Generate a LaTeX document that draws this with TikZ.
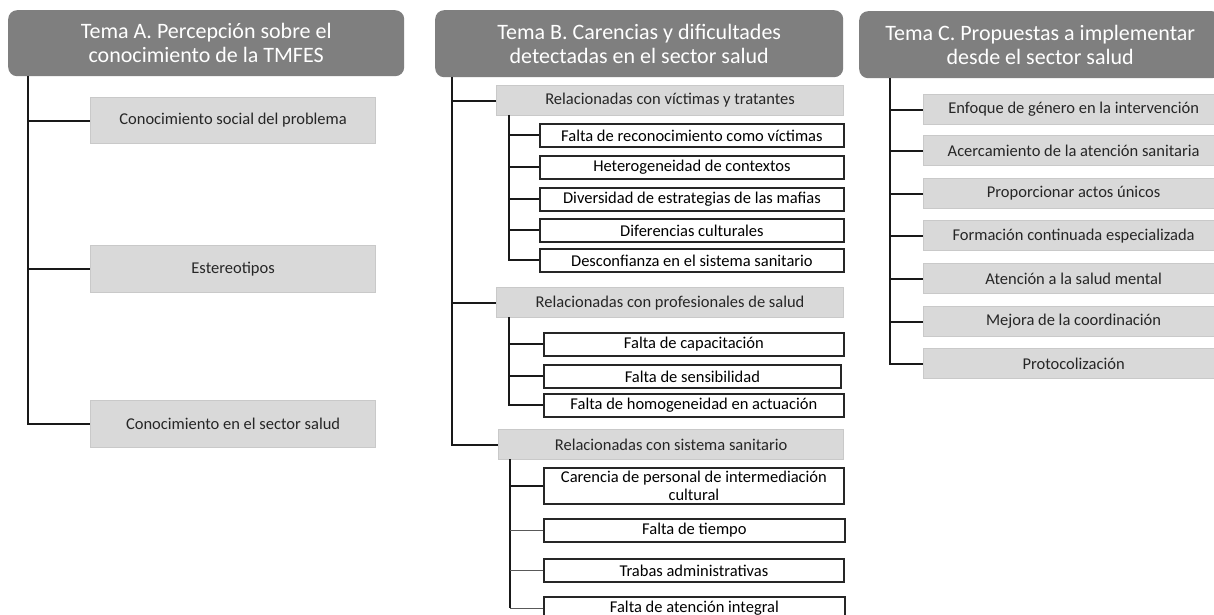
\documentclass[tikz,border=0pt]{standalone}
\usepackage{fontspec}
\setmainfont{Carlito}
\definecolor{hdrgray}{HTML}{7F7F7F}
\definecolor{boxgray}{HTML}{D9D9D9}
\definecolor{boxedge}{HTML}{C9C9C9}
\begin{document}
\begin{tikzpicture}[x=1pt,y=-1pt,
  hdr/.style={fill=hdrgray, rounded corners=9pt, text=white, anchor=north west, inner sep=0pt, align=center,
    font=\fontsize{22}{24}\selectfont},
  gbox/.style={fill=boxgray, draw=boxedge, line width=1.2pt, anchor=north west, inner sep=0pt, align=center,
    font=\fontsize{16.5}{18}\selectfont, text=black!85},
  wbox/.style={fill=white, draw=black!85, line width=1.8pt, anchor=north west, inner sep=0pt, align=center,
    font=\fontsize{16.5}{18}\selectfont, text=black},
  conn/.style={draw=black!90, line width=2pt},
  thinconn/.style={draw=black!65, line width=1.4pt}
]
\useasboundingbox (0,0) rectangle (1214,615);
\clip (0,0) rectangle (1214,615);
\fill[white] (0,0) rectangle (1214,615);

% ---------- Tema A ----------
\node[hdr, minimum width=396pt, minimum height=66pt] (hA) at (8,10) {Tema A. Percepción sobre el\\conocimiento de la TMFES};
\node[gbox, minimum width=285pt, minimum height=46pt] (a1) at (90,97) {Conocimiento social del problema};
\node[gbox, minimum width=285pt, minimum height=47pt] (a2) at (90,245) {Estereotipos};
\node[gbox, minimum width=285pt, minimum height=47pt] (a3) at (90,400) {Conocimiento en el sector salud};
\coordinate (tA) at (28,76);
\draw[conn] (tA) |- (a3.west);
\draw[conn] (tA |- a1.west) -- (a1.west);
\draw[conn] (tA |- a2.west) -- (a2.west);

% ---------- Tema B ----------
\node[hdr, minimum width=408pt, minimum height=67pt] (hB) at (435,10) {Tema B. Carencias y dificultades\\detectadas en el sector salud};
\node[gbox, minimum width=347pt, minimum height=30pt] (s1) at (496,85) {Relacionadas con víctimas y tratantes};
\node[gbox, minimum width=347pt, minimum height=30pt] (s2) at (496,287) {Relacionadas con profesionales de salud};
\node[gbox, minimum width=345pt, minimum height=30pt] (s3) at (498,429) {Relacionadas con sistema sanitario};
\coordinate (tB) at (452,77);
\draw[conn] (tB) |- (s3.west);
\draw[conn] (tB |- s1.west) -- (s1.west);
\draw[conn] (tB |- s2.west) -- (s2.west);

% group 1
\node[wbox, minimum width=304pt, minimum height=23pt] (b11) at (539,123) {Falta de reconocimiento como víctimas};
\node[wbox, minimum width=304pt, minimum height=23pt] (b12) at (539,155) {Heterogeneidad de contextos};
\node[wbox, minimum width=304pt, minimum height=23pt] (b13) at (539,187) {Diversidad de estrategias de las mafias};
\node[wbox, minimum width=304pt, minimum height=23pt] (b14) at (539,218) {Diferencias culturales};
\node[wbox, minimum width=304pt, minimum height=23pt] (b15) at (539,248) {Desconfianza en el sistema sanitario};
\coordinate (t1) at (509,115);
\draw[conn] (t1) |- (b15.west);
\foreach \n in {b11,b12,b13,b14}{\draw[conn] (t1 |- \n.west) -- (\n.west);}

% group 2
\node[wbox, minimum width=300pt, minimum height=23pt] (b21) at (543,332) {Falta de capacitación};
\node[wbox, minimum width=297pt, minimum height=23pt] (b22) at (543,364) {Falta de sensibilidad};
\node[wbox, minimum width=300pt, minimum height=23pt] (b23) at (543,393) {Falta de homogeneidad en actuación};
\coordinate (t2) at (509,317);
\draw[conn] (t2) |- (b23.west);
\foreach \n in {b21,b22}{\draw[conn] (t2 |- \n.west) -- (\n.west);}

% group 3
\node[wbox, minimum width=300pt, minimum height=36pt, font=\fontsize{16.5}{18.5}\selectfont] (b31) at (543,467) {Carencia de personal de intermediación\\cultural};
\node[wbox, minimum width=301pt, minimum height=23pt] (b32) at (543,518) {Falta de tiempo};
\node[wbox, minimum width=300pt, minimum height=23pt] (b33) at (543,558) {Trabas administrativas};
\node[wbox, minimum width=301pt, minimum height=23pt] (b34) at (543,596) {Falta de atención integral};
\coordinate (t3) at (510,459);
\draw[conn] (t3) -- (t3 |- b34.west);
\draw[conn] (t3 |- b31.west) -- (b31.west);
\draw[thinconn] (t3 |- b32.west) -- (b32.west);
\draw[thinconn] (t3 |- b33.west) -- (b33.west);
\draw[thinconn] (t3 |- b34.west) -- (b34.west);

% ---------- Tema C ----------
\node[hdr, minimum width=362pt, minimum height=67pt] (hC) at (859,11) {Tema C. Propuestas a implementar\\desde el sector salud};
\node[gbox, minimum width=300pt, minimum height=30pt] (c1) at (923,94) {Enfoque de género en la intervención};
\node[gbox, minimum width=300pt, minimum height=30pt] (c2) at (923,135) {Acercamiento de la atención sanitaria};
\node[gbox, minimum width=300pt, minimum height=30pt] (c3) at (923,178) {Proporcionar actos únicos};
\node[gbox, minimum width=300pt, minimum height=30pt] (c4) at (923,220) {Formación continuada especializada};
\node[gbox, minimum width=300pt, minimum height=30pt] (c5) at (923,263) {Atención a la salud mental};
\node[gbox, minimum width=300pt, minimum height=30pt] (c6) at (923,306) {Mejora de la coordinación};
\node[gbox, minimum width=300pt, minimum height=30pt] (c7) at (923,348) {Protocolización};
\coordinate (tC) at (890,78);
\draw[conn] (tC) |- (c7.west);
\foreach \n in {c1,c2,c3,c4,c5,c6}{\draw[conn] (tC |- \n.west) -- (\n.west);}
\end{tikzpicture}
\end{document}
